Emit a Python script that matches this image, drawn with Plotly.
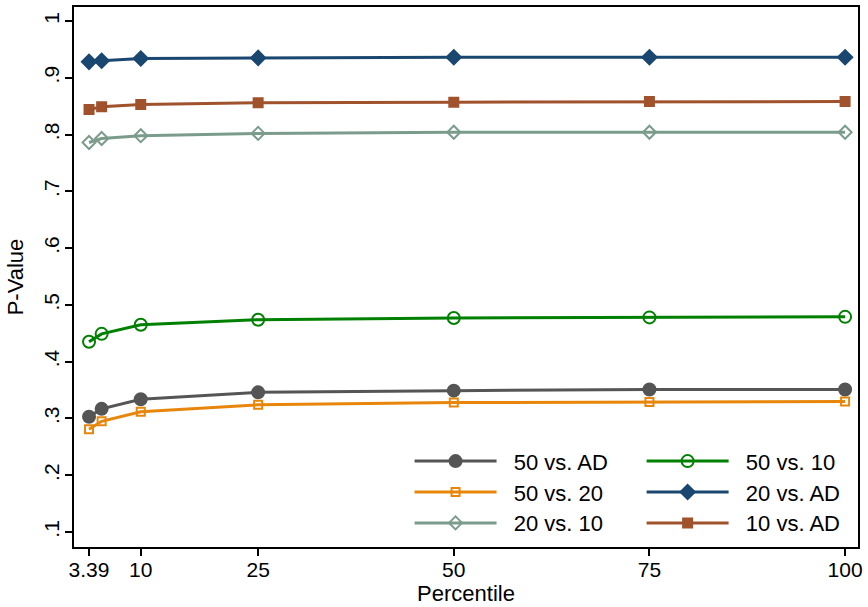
import plotly.graph_objects as go

percentile = [3.39, 5, 10, 25, 50, 75, 100]

s50_ad = [0.303, 0.317, 0.334, 0.346, 0.349, 0.351, 0.351]
s50_20 = [0.281, 0.295, 0.312, 0.324, 0.328, 0.329, 0.330]
s20_10 = [0.786, 0.793, 0.798, 0.802, 0.804, 0.804, 0.804]
s50_10 = [0.435, 0.449, 0.465, 0.474, 0.477, 0.478, 0.479]
s20_ad = [0.928, 0.930, 0.934, 0.935, 0.936, 0.936, 0.936]
s10_ad = [0.844, 0.849, 0.853, 0.856, 0.857, 0.858, 0.858]

xtick_vals = [3.39, 10, 25, 50, 75, 100]
xtick_text = ["3.39", "10", "25", "50", "75", "100"]
ytick_vals = [0.1, 0.2, 0.3, 0.4, 0.5, 0.6, 0.7, 0.8, 0.9, 1.0]
ytick_text = [".1", ".2", ".3", ".4", ".5", ".6", ".7", ".8", ".9", "1"]

series = [
    ("50 vs. AD", s50_ad, "#555555", "circle", 12, "legend"),
    ("50 vs. 20", s50_20, "#e8860c", "square-open", 8, "legend2"),
    ("20 vs. 10", s20_10, "#7b9c8c", "diamond-open", 10, "legend3"),
    ("50 vs. 10", s50_10, "#008000", "circle-open", 12, "legend4"),
    ("20 vs. AD", s20_ad, "#1a476f", "diamond", 11, "legend5"),
    ("10 vs. AD", s10_ad, "#a0522d", "square", 9, "legend6"),
]

fig = go.Figure()
for name, vals, color, sym, size, lg in series:
    fig.add_trace(go.Scatter(
        x=percentile, y=vals, name="\u00a0\u00a0" + name, mode="lines+markers",
        line=dict(color=color, width=3),
        marker=dict(symbol=sym, size=size, color=color,
                    line=dict(color=color, width=2)),
        legend=lg,
    ))

fam = "Liberation Sans, Arial, sans-serif"
font = dict(family=fam, size=21, color="#000000")
lfont = dict(family=fam, size=22, color="#000000")

rows = [0.1587, 0.1015, 0.0443]
cols = [0.428, 0.724]
legends = {}
names = ["legend", "legend2", "legend3", "legend4", "legend5", "legend6"]
for i, lg in enumerate(names):
    c = i // 3
    r = i % 3
    legends[lg] = dict(x=cols[c], y=rows[r], xanchor="left", yanchor="middle",
                       font=lfont, bgcolor="rgba(0,0,0,0)", itemwidth=82,
                       borderwidth=0)

fig.update_layout(
    width=868, height=607,
    margin=dict(l=74, r=7, t=5, b=60),
    paper_bgcolor="white", plot_bgcolor="white",
    font=font,
    showlegend=True,
    **legends,
    xaxis=dict(
        range=[1.47, 101.65], tickmode="array", tickvals=xtick_vals, ticktext=xtick_text,
        showgrid=False, zeroline=False, showline=True, linecolor="#000000", linewidth=1.5,
        mirror=True, ticks="outside", ticklen=7, tickwidth=1.5, tickcolor="#000000",
        ticklabelstandoff=-4,
        title=dict(text="Percentile", font=lfont, standoff=6),
        tickfont=font,
    ),
    yaxis=dict(
        range=[0.0737, 1.0246], tickmode="array", tickvals=ytick_vals, ticktext=ytick_text,
        showgrid=False, zeroline=False, showline=True, linecolor="#000000", linewidth=1.5,
        mirror=True, ticks="outside", ticklen=7, tickwidth=1.5, tickcolor="#000000",
        tickangle=-90, ticklabelstandoff=-2,
        title=dict(text="P-Value", font=lfont, standoff=10),
        tickfont=font,
    ),
)

fig.write_html("out.html")
